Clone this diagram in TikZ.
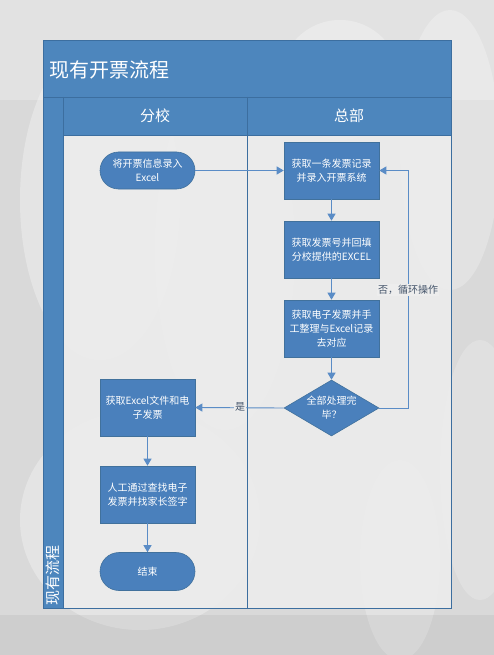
\documentclass[tikz,border=0pt]{standalone}
\usepackage{fontspec}
\setmainfont{Noto Sans CJK SC}
\usetikzlibrary{arrows.meta,shapes.geometric}
\definecolor{bgc}{HTML}{D9D9D9}
\definecolor{lanebg}{HTML}{EDEDED}
\definecolor{hdr}{HTML}{4D86BD}
\definecolor{hdrline}{HTML}{3C6E9F}
\definecolor{nodefill}{HTML}{4A80BC}
\definecolor{nodeline}{HTML}{41719C}
\definecolor{conn}{HTML}{5A8CC6}
\definecolor{lbl}{HTML}{44546A}
\tikzset{
  proc/.style={draw=nodeline, line width=0.6pt, fill=nodefill, text=white, minimum width=95pt, minimum height=57pt, inner sep=0pt, align=center, font=\fontsize{10}{14}\selectfont},
  term/.style={proc, rounded corners=18.5pt, minimum height=37pt},
  decide/.style={proc, diamond, shape aspect=1.7, minimum width=95pt, minimum height=56pt},
  flow/.style={draw=conn, line width=0.9pt, -{Triangle[width=8pt,length=7pt]}},
  edgelbl/.style={text=lbl, fill=lanebg, inner sep=1pt, font=\fontsize{10}{12}\selectfont},
  laneline/.style={draw=hdrline, line width=0.8pt}
}
\begin{document}
\begin{tikzpicture}[x=1pt,y=-1pt]
\useasboundingbox (0,0) rectangle (494,655);
% background
\fill[bgc] (0,0) rectangle (494,655);
\fill[white,opacity=0.25] (0,0) rectangle (494,100);
\fill[white,opacity=0.30] (100,200) ellipse (80 and 160);
\fill[white,opacity=0.25] (225,250) ellipse (70 and 180);
\fill[white,opacity=0.30] (340,80) ellipse (60 and 60);
\fill[white,opacity=0.25] (450,150) ellipse (50 and 140);
\fill[white,opacity=0.30] (140,520) ellipse (120 and 110);
\fill[white,opacity=0.25] (400,560) ellipse (40 and 100);
\fill[white,opacity=0.20] (480,470) ellipse (40 and 130);
\fill[gray,opacity=0.12] (0,615) rectangle (494,655);
% lanes
\fill[lanebg,opacity=0.85] (63,135) rectangle (451,608);
\fill[hdr] (43,40) rectangle (451,135);
\fill[hdr] (43,97) rectangle (63,608);
\draw[laneline] (43,40) rectangle (451,608);
\draw[laneline] (43,97) -- (451,97);
\draw[laneline] (63,135) -- (451,135);
\draw[laneline] (63,97) -- (63,608);
\draw[laneline] (247,97) -- (247,608);
\node[anchor=west, text=white, font=\fontsize{20}{24}\selectfont, inner sep=0pt] (title) at (49,70) {现有开票流程};
\node[text=white, font=\fontsize{15}{18}\selectfont] (lane1) at (155,116) {分校};
\node[text=white, font=\fontsize{15}{18}\selectfont] (lane2) at (349,116) {总部};
\node[text=white, font=\fontsize{15}{18}\selectfont, rotate=90] (side) at (53,575) {现有流程};
% nodes
\node[term] (start) at (147.5,170.5) {将开票信息录入\\Excel};
\node[proc] (b1) at (331.5,170.5) {获取一条发票记录\\并录入开票系统};
\node[proc] (b2) at (331.5,249.5) {获取发票号并回填\\分校提供的EXCEL};
\node[proc] (b3) at (331.5,328.5) {获取电子发票并手\\工整理与Excel记录\\去对应};
\node[decide] (d) at (331.5,408) {全部处理完\\毕？};
\node[proc] (a1) at (147.5,407.5) {获取Excel文件和电\\子发票};
\node[proc] (a2) at (147.5,494.5) {人工通过查找电子\\发票并找家长签字};
\node[term, minimum height=38pt, rounded corners=19pt] (end) at (147.5,571.5) {结束};
% connectors
\draw[flow] (start) -- (b1);
\draw[flow] (b1) -- (b2);
\draw[flow] (b2) -- (b3);
\draw[flow] (b3) -- (d);
\coordinate (lr) at (408,408);
\coordinate (ur) at (408,170.5);
\draw[flow] (d.east) -- (lr) -- (ur) -- (b1.east);
\node[edgelbl] (no) at (408,290) {否，循环操作};
\draw[flow] (d.west) -- (a1.east);
\node[edgelbl] (yes) at (240,407) {是};
\draw[flow] (a1) -- (a2);
\draw[flow] (a2) -- (end);
\end{tikzpicture}
\end{document}
